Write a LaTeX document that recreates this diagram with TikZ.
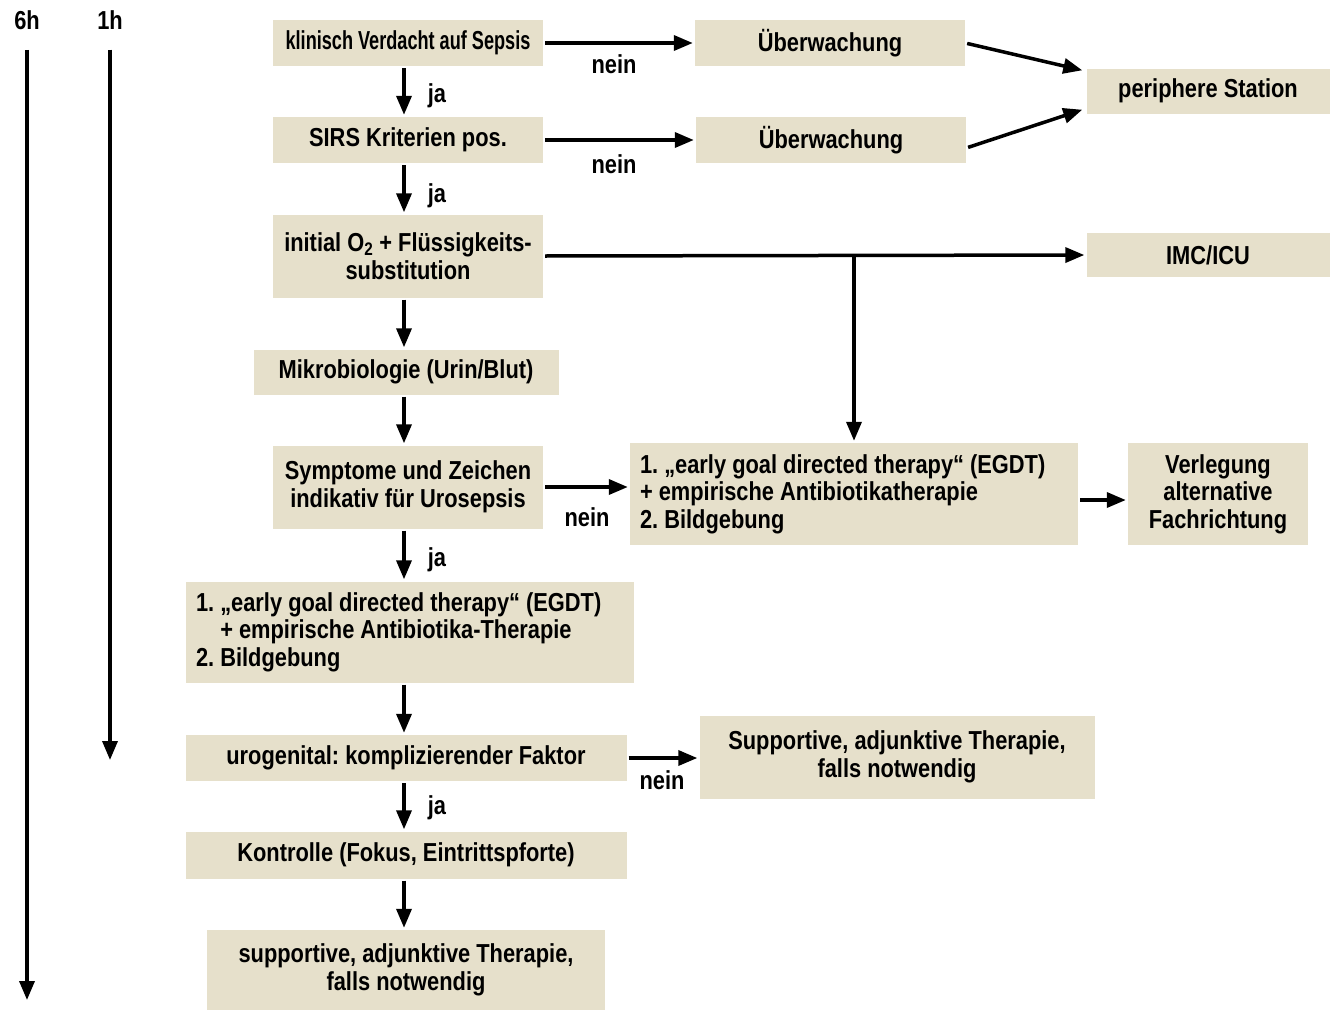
\documentclass[tikz,border=0pt]{standalone}
\usepackage{fontspec}
\setmainfont{Liberation Sans}[FakeStretch=0.84]
\usetikzlibrary{arrows.meta}
\definecolor{boxfill}{HTML}{E6E0CB}
\begin{document}
\begin{tikzpicture}[x=1pt,y=-1pt,
  font=\fontsize{26}{27.5}\selectfont\bfseries\frenchspacing,
  box/.style={fill=boxfill, inner sep=0pt, align=center},
  listbox/.style={fill=boxfill, inner sep=0pt, inner xsep=10pt, text width=428pt, align=flush left},
  arr/.style={line width=3.5pt, -{Triangle[length=19pt,width=15pt]}, shorten <=2pt, shorten >=2pt},
  lbl/.style={inner sep=0pt, anchor=center}]
\useasboundingbox (0,0) rectangle (1330,1010);
% timeline
\node[lbl] (t6) at (27,20) {6h};
\node[lbl] (t1) at (110,20) {1h};
\coordinate (t6e) at (27,1002);
\coordinate (t1e) at (110,762);
\draw[arr, shorten <=20pt] (t6.south) -- (t6e);
\draw[arr, shorten <=20pt] (t1.south) -- (t1e);
% boxes
\node[box, minimum width=270pt, minimum height=46pt] (kv) at (408,43) {\scalebox{0.83}[1]{klinisch Verdacht auf Sepsis}};
\node[box, minimum width=270pt, minimum height=46pt] (ue1) at (830,43) {Überwachung};
\node[box, minimum width=243pt, minimum height=45pt] (peri) at (1208,91) {periphere Station};
\node[box, minimum width=270pt, minimum height=46pt] (sirs) at (408,140) {SIRS Kriterien pos.};
\node[box, minimum width=270pt, minimum height=46pt] (ue2) at (831,140) {Überwachung};
\node[box, minimum width=270pt, minimum height=83pt] (init) at (408,256) {initial O\textsubscript{2} + Flüssigkeits-\\substitution};
\node[box, minimum width=243pt, minimum height=44pt] (imc) at (1208,255) {IMC/ICU};
\node[box, minimum width=305pt, minimum height=45pt] (mikro) at (406,372) {Mikrobiologie (Urin/Blut)};
\node[box, minimum width=270pt, minimum height=83pt] (sympt) at (408,487) {Symptome und Zeichen\\indikativ für Urosepsis};
\node[listbox, minimum height=102pt] (egdtR) at (854,494)
  {1. „early goal directed therapy“ (EGDT)\\+ empirische Antibiotikatherapie\\2. Bildgebung};
\node[box, minimum width=180pt, minimum height=102pt] (verl) at (1218,494) {Verlegung\\alternative\\Fachrichtung};
\node[listbox, minimum height=101pt] (egdtL) at (410,632)
  {1. „early goal directed therapy“ (EGDT)\\\phantom{1. }+ empirische Antibiotika-Therapie\\2. Bildgebung};
\node[box, minimum width=441pt, minimum height=46pt] (uro) at (406,758) {urogenital: komplizierender Faktor};
\node[box, minimum width=395pt, minimum height=83pt] (supp) at (897,757) {Supportive, adjunktive Therapie,\\falls notwendig};
\node[box, minimum width=441pt, minimum height=47pt] (kontr) at (406,855) {Kontrolle (Fokus, Eintrittspforte)};
\node[box, minimum width=398pt, minimum height=80pt] (supp2) at (406,970) {supportive, adjunktive Therapie,\\falls notwendig};
% connectors
\draw[arr] (kv.east) -- (ue1.west);
\node[lbl] (n1) at (614,64) {nein};
\draw[arr] (kv.south -| 404,0) -- (sirs.north -| 404,0);
\node[lbl] (j1) at (437,96) {ja};
\draw[arr] (sirs.east) -- (ue2.west);
\node[lbl] (n2) at (614,164) {nein};
\draw[arr] (sirs.south -| 404,0) -- (init.north -| 404,0);
\node[lbl] (j2) at (437,196) {ja};
\draw[arr, shorten >=0pt] (ue1.east) -- ([xshift=-4pt,yshift=-2pt]peri.north west);
\draw[arr, shorten >=0pt] (ue2.east |- 0,148) -- ([xshift=-4pt,yshift=4pt]peri.south west);
\draw[arr] (init.east) -- (imc.west);
\draw[arr, shorten <=0pt] (init.east -| egdtR.north) -- (egdtR.north);
\draw[arr] (init.south -| 404,0) -- (mikro.north -| 404,0);
\draw[arr] (mikro.south -| 404,0) -- (sympt.north -| 404,0);
\draw[arr] (sympt.east) -- (egdtR.west |- sympt.east);
\node[lbl] (n3) at (587,517) {nein};
\draw[arr] (sympt.south -| 404,0) -- (egdtL.north -| 404,0);
\node[lbl] (j3) at (437,560) {ja};
\draw[arr] ([yshift=-6pt]egdtR.east) -- ([yshift=-6pt]verl.west);
\draw[arr] (egdtL.south -| 404,0) -- (uro.north -| 404,0);
\draw[arr] (uro.east) -- (supp.west |- uro.east);
\node[lbl] (n4) at (662,780) {nein};
\draw[arr] (uro.south -| 404,0) -- (kontr.north -| 404,0);
\node[lbl] (j4) at (437,808) {ja};
\draw[arr] (kontr.south -| 404,0) -- (supp2.north -| 404,0);
\end{tikzpicture}
\end{document}
